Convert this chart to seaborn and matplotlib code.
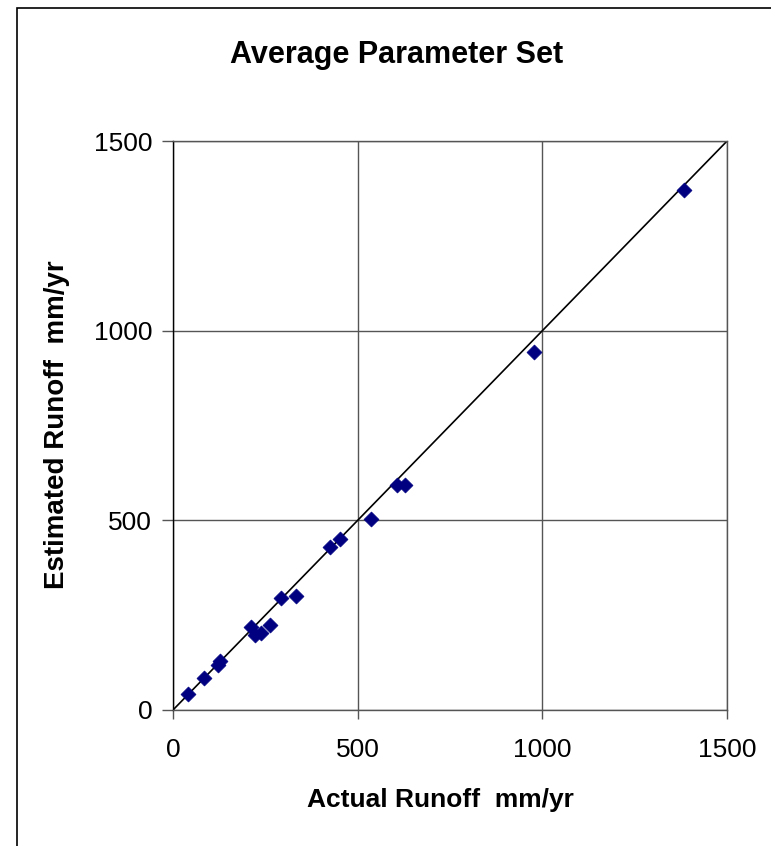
"""Estimated vs actual runoff, average parameter set."""

import matplotlib
matplotlib.use("Agg")
import matplotlib.pyplot as plt
import seaborn as sns
import pandas as pd
from matplotlib.patches import Rectangle

# values (mm/yr)
actual = [40, 83, 121, 126, 211, 222, 238, 262, 292, 334, 424, 451, 537, 606, 629, 976, 1383]
estimated = [41, 84, 118, 130, 220, 198, 202, 225, 294, 300, 430, 451, 503, 594, 594, 944, 1371]
ticks = [0, 500, 1000, 1500]

df = pd.DataFrame({'actual': actual, 'estimated': estimated})

sns.set_style('white')
plt.rcParams['font.family'] = ['Liberation Sans', 'DejaVu Sans']
plt.rcParams['text.color'] = 'black'
plt.rcParams['axes.labelcolor'] = 'black'
plt.rcParams['xtick.color'] = 'black'
plt.rcParams['ytick.color'] = 'black'

fig = plt.figure(figsize=(7.71, 8.46), dpi=100)
ax = fig.add_axes([0.2244, 0.1608, 0.7186, 0.6725])

# outer chart border
fig.patches.append(Rectangle((17 / 771, -0.01), 1.0, 1 - 8 / 846 + 0.01,
                             transform=fig.transFigure, fill=False,
                             edgecolor='black', linewidth=1.2))

# 1:1 line
ax.plot([0, 1500], [0, 1500], color='black', linewidth=1.2, zorder=2)

sns.scatterplot(data=df, x='actual', y='estimated', marker='D', s=58,
                color='#000080', edgecolor='#000080', linewidth=0.5,
                ax=ax, zorder=3, legend=False)

ax.set_xlim(0, 1500)
ax.set_ylim(0, 1500)
ax.set_xticks(ticks)
ax.set_yticks(ticks)
ax.grid(True, color='#555555', linewidth=1.0)
ax.set_axisbelow(True)
for side in ['top', 'right', 'bottom']:
    ax.spines[side].set_color('#555555')
ax.spines['left'].set_color('black')
for sp in ax.spines.values():
    sp.set_linewidth(1.0)

ax.tick_params(axis='x', direction='out', length=6.5, width=1.0,
               color='#555555', labelsize=19, pad=14, bottom=True)
ax.tick_params(axis='y', direction='out', length=8, width=1.0,
               color='#555555', labelsize=19, pad=7, left=True)

ax.set_xlabel('Actual Runoff  mm/yr', fontsize=19, fontweight='bold')
ax.set_ylabel('Estimated Runoff  mm/yr', fontsize=20, fontweight='bold')
ax.xaxis.set_label_coords(0.5 + (440 - 450) / 554, -90 / 569)
ax.xaxis.label.set_va('center')
ax.yaxis.set_label_coords(-116 / 554, (710 - 425) / 569)
ax.yaxis.label.set_va('center')

fig.text(397 / 771, 1 - 55 / 846, 'Average Parameter Set', ha='center', va='center',
         fontsize=22, fontweight='bold')

fig.savefig('out.png', dpi=100)
